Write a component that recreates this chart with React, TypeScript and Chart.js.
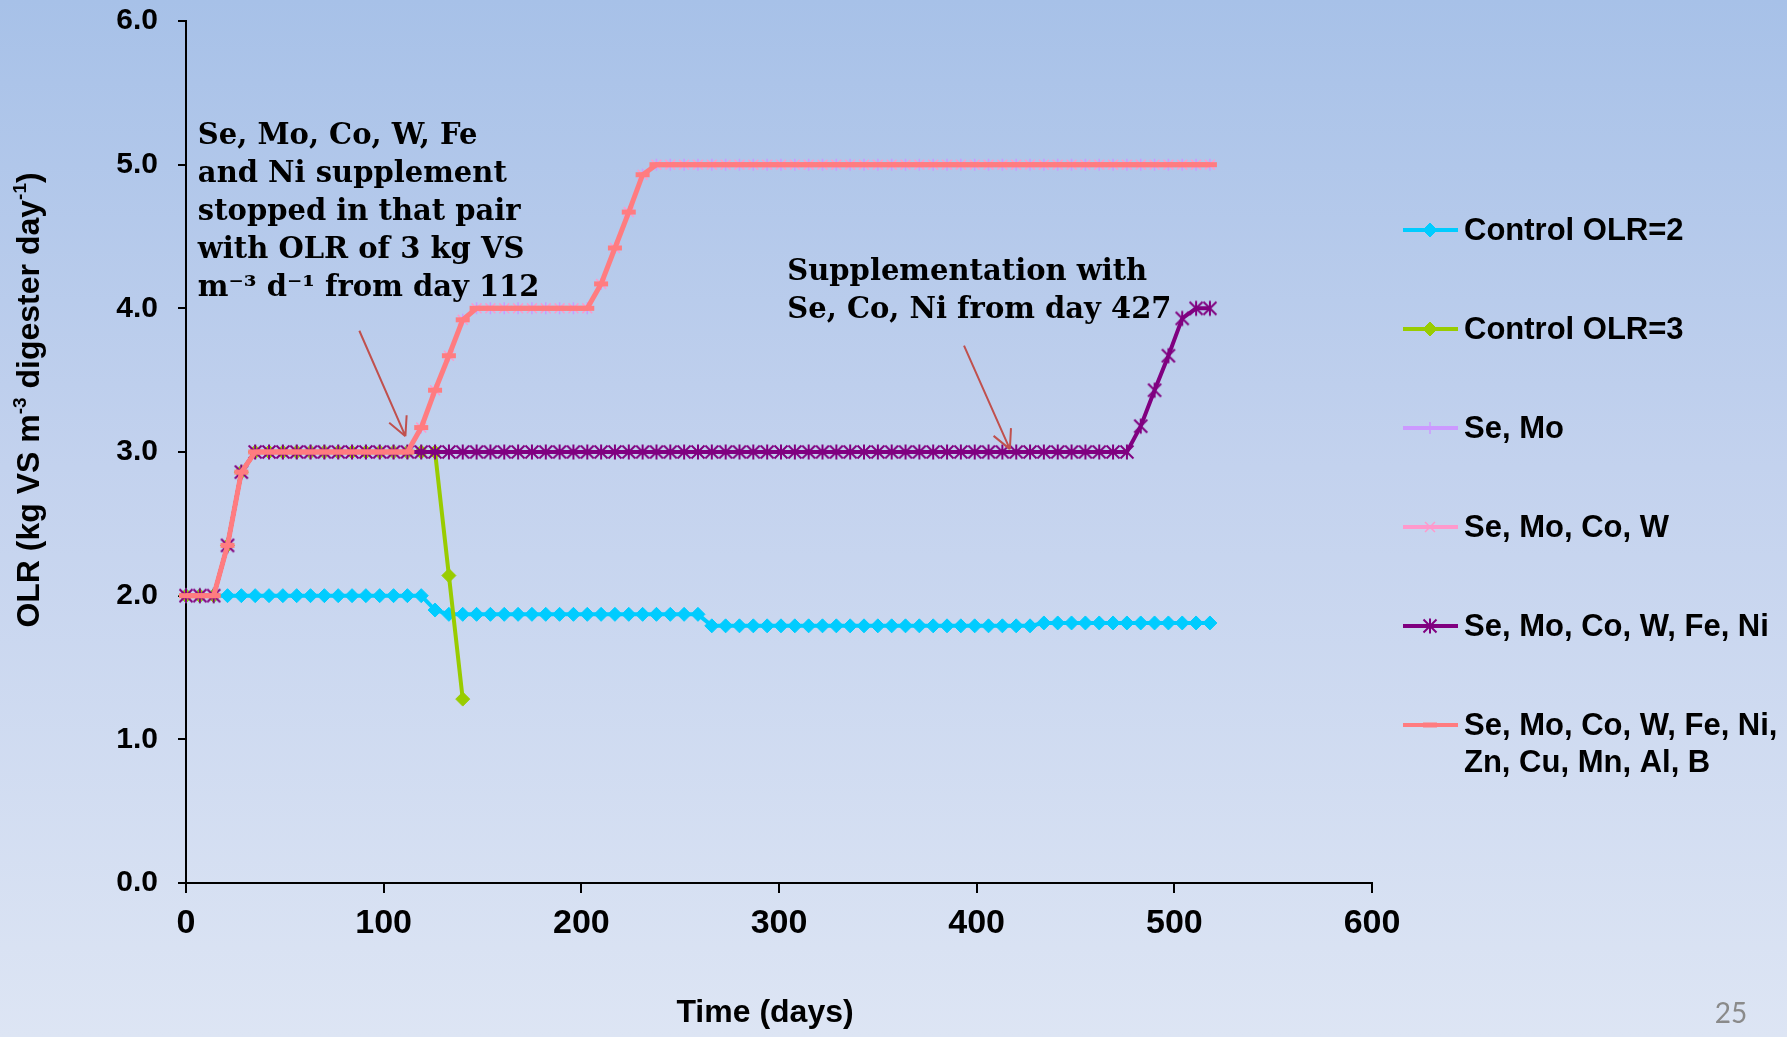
import React, { useEffect, useRef } from 'react';
import { Chart, registerables } from 'chart.js';
import { drawPoint } from 'chart.js/helpers';

Chart.register(...registerables);

// Sampling days (weekly readings)
const days = [
  0, 7, 14, 21, 28, 35, 42, 49, 56, 63, 70, 77, 84, 91, 98, 105, 112, 119, 126, 133,
  140, 147, 154, 161, 168, 175, 182, 189, 196, 203, 210, 217, 224, 231, 238, 245, 252, 259, 266, 273,
  280, 287, 294, 301, 308, 315, 322, 329, 336, 343, 350, 357, 364, 371, 378, 385, 392, 399, 406, 413,
  420, 427, 434, 441, 448, 455, 462, 469, 476, 483, 490, 497, 504, 511, 518,
];

// OLR, kg VS m-3 day-1
const controlOLR2 = [
  2.0, 2.0, 2.0, 2.0, 2.0, 2.0, 2.0, 2.0, 2.0, 2.0, 2.0, 2.0, 2.0, 2.0, 2.0, 2.0, 2.0, 2.0, 1.9, 1.87,
  1.87, 1.87, 1.87, 1.87, 1.87, 1.87, 1.87, 1.87, 1.87, 1.87, 1.87, 1.87, 1.87, 1.87, 1.87, 1.87, 1.87, 1.87, 1.79, 1.79,
  1.79, 1.79, 1.79, 1.79, 1.79, 1.79, 1.79, 1.79, 1.79, 1.79, 1.79, 1.79, 1.79, 1.79, 1.79, 1.79, 1.79, 1.79, 1.79, 1.79,
  1.79, 1.79, 1.81, 1.81, 1.81, 1.81, 1.81, 1.81, 1.81, 1.81, 1.81, 1.81, 1.81, 1.81, 1.81,
];

const controlOLR3 = [
  2.0, 2.0, 2.0, 2.35, 2.86, 3.0, 3.0, 3.0, 3.0, 3.0, 3.0, 3.0, 3.0, 3.0, 3.0, 3.0, 3.0, 3.0, 3.0, 2.14,
  1.28,
];

// Se,Mo / Se,Mo,Co,W / full trace element mix share the same loading schedule
const supplementedPairOLR = [
  2.0, 2.0, 2.0, 2.35, 2.86, 3.0, 3.0, 3.0, 3.0, 3.0, 3.0, 3.0, 3.0, 3.0, 3.0, 3.0, 3.0, 3.17, 3.43, 3.67,
  3.92, 4.0, 4.0, 4.0, 4.0, 4.0, 4.0, 4.0, 4.0, 4.0, 4.17, 4.42, 4.67, 4.93, 5.0, 5.0, 5.0, 5.0, 5.0, 5.0,
  5.0, 5.0, 5.0, 5.0, 5.0, 5.0, 5.0, 5.0, 5.0, 5.0, 5.0, 5.0, 5.0, 5.0, 5.0, 5.0, 5.0, 5.0, 5.0, 5.0,
  5.0, 5.0, 5.0, 5.0, 5.0, 5.0, 5.0, 5.0, 5.0, 5.0, 5.0, 5.0, 5.0, 5.0, 5.0,
];

const seMoCoWFeNiOLR = [
  2.0, 2.0, 2.0, 2.35, 2.86, 3.0, 3.0, 3.0, 3.0, 3.0, 3.0, 3.0, 3.0, 3.0, 3.0, 3.0, 3.0, 3.0, 3.0, 3.0,
  3.0, 3.0, 3.0, 3.0, 3.0, 3.0, 3.0, 3.0, 3.0, 3.0, 3.0, 3.0, 3.0, 3.0, 3.0, 3.0, 3.0, 3.0, 3.0, 3.0,
  3.0, 3.0, 3.0, 3.0, 3.0, 3.0, 3.0, 3.0, 3.0, 3.0, 3.0, 3.0, 3.0, 3.0, 3.0, 3.0, 3.0, 3.0, 3.0, 3.0,
  3.0, 3.0, 3.0, 3.0, 3.0, 3.0, 3.0, 3.0, 3.0, 3.18, 3.43, 3.67, 3.93, 4.0, 4.0,
];

const seriesLabels = [
  ['Control OLR=2'],
  ['Control OLR=3'],
  ['Se, Mo'],
  ['Se, Mo, Co, W'],
  ['Se, Mo, Co, W, Fe, Ni'],
  ['Se, Mo, Co, W, Fe, Ni,', 'Zn, Cu, Mn, Al, B'],
];

const seriesColors = ['#00CCFF', '#99CC00', '#CC99FF', '#FF99CC', '#800080', '#FF7C80'];

const xRange = [0, 600];
const yRange = [0, 6];

const yTitleParts = [
  { text: 'OLR (kg VS m', sup: false },
  { text: '-3', sup: true },
  { text: ' digester day', sup: false },
  { text: '-1', sup: true },
  { text: ')', sup: false },
];
const xTitle = 'Time (days)';
const slideNumber = '25';

// Callouts: text anchored at [day, OLR] of the first baseline
const notes = [
  {
    at: [6, 5.147],
    lines: ['Se, Mo, Co, W, Fe', 'and Ni supplement', 'stopped in that pair', 'with OLR of 3 kg VS', 'm\u207B\u00B3 d\u207B\u00B9 from day 112'],
  },
  {
    at: [304.2, 4.198],
    lines: ['Supplementation with', 'Se, Co, Ni from day 427'],
  },
];

const arrows = [
  { from: [87.7, 3.844], to: [111, 3.11] },
  { from: [393.6, 3.74], to: [416.8, 3.02] },
];

const SANS = "'Liberation Sans', Arial, sans-serif";
const SERIF = "'DejaVu Serif', Georgia, serif";

function asteriskMarker(color: string) {
  const c = document.createElement('canvas');
  c.width = 18;
  c.height = 18;
  const g = c.getContext('2d')!;
  g.strokeStyle = color;
  g.lineWidth = 2;
  g.beginPath();
  g.moveTo(2.5, 2.5);
  g.lineTo(15.5, 15.5);
  g.moveTo(15.5, 2.5);
  g.lineTo(2.5, 15.5);
  g.moveTo(9, 1.5);
  g.lineTo(9, 16.5);
  g.stroke();
  return c;
}

function toPoints(xs: number[], ys: number[]) {
  return ys.map((v, i) => ({ x: xs[i], y: v }));
}

const overlayPlugin = {
  id: 'olrOverlay',
  afterDraw(chart: any) {
    const { ctx } = chart;
    const xs = chart.scales.x;
    const ys = chart.scales.y;
    ctx.save();

    // callout arrows
    ctx.strokeStyle = '#C0504D';
    ctx.lineWidth = 2;
    for (const a of arrows) {
      const x1 = xs.getPixelForValue(a.from[0]);
      const y1 = ys.getPixelForValue(a.from[1]);
      const x2 = xs.getPixelForValue(a.to[0]);
      const y2 = ys.getPixelForValue(a.to[1]);
      const ang = Math.atan2(y2 - y1, x2 - x1);
      ctx.beginPath();
      ctx.moveTo(x1, y1);
      ctx.lineTo(x2, y2);
      for (const s of [-1, 1]) {
        const w = ang + Math.PI + s * 0.47;
        ctx.moveTo(x2, y2);
        ctx.lineTo(x2 + 21 * Math.cos(w), y2 + 21 * Math.sin(w));
      }
      ctx.stroke();
    }

    // callout texts
    ctx.fillStyle = '#000';
    ctx.font = `bold 29px ${SERIF}`;
    ctx.textAlign = 'left';
    ctx.textBaseline = 'alphabetic';
    for (const n of notes) {
      const nx = xs.getPixelForValue(n.at[0]);
      const ny = ys.getPixelForValue(n.at[1]);
      n.lines.forEach((line, i) => ctx.fillText(line, nx, ny + i * 38));
    }

    // legend
    const ds = chart.data.datasets;
    ds.forEach((d: any, i: number) => {
      const cy = 230 + i * 99;
      ctx.strokeStyle = d.borderColor;
      ctx.lineWidth = 4;
      ctx.beginPath();
      ctx.moveTo(1403, cy);
      ctx.lineTo(1458, cy);
      ctx.stroke();
      ctx.fillStyle = d.borderColor;
      ctx.strokeStyle = d.borderColor;
      ctx.lineWidth = d.pointBorderWidth;
      drawPoint(ctx, { pointStyle: d.pointStyle, radius: d.pointRadius, rotation: 0, borderWidth: d.pointBorderWidth }, 1430, cy);
      ctx.fillStyle = '#000';
      ctx.font = `bold 31px ${SANS}`;
      ctx.textAlign = 'left';
      ctx.textBaseline = 'middle';
      seriesLabels[i].forEach((t, k) => ctx.fillText(t, 1464, cy + 1 + k * 37.5));
    });

    // axis titles
    ctx.fillStyle = '#000';
    ctx.save();
    ctx.translate(30, 400);
    ctx.rotate(-Math.PI / 2);
    const mainFont = `bold 32px ${SANS}`;
    const supFont = `bold 19px ${SANS}`;
    let total = 0;
    for (const p of yTitleParts) {
      ctx.font = p.sup ? supFont : mainFont;
      total += ctx.measureText(p.text).width;
    }
    let px = -total / 2;
    ctx.textAlign = 'left';
    ctx.textBaseline = 'middle';
    for (const p of yTitleParts) {
      ctx.font = p.sup ? supFont : mainFont;
      ctx.fillText(p.text, px, p.sup ? -9 : 0);
      px += ctx.measureText(p.text).width;
    }
    ctx.restore();

    ctx.font = `bold 32px ${SANS}`;
    ctx.textAlign = 'center';
    ctx.textBaseline = 'middle';
    ctx.fillText(xTitle, 765, 1013);

    ctx.font = `28px Lato, ${SANS}`;
    ctx.fillStyle = '#8A8A8A';
    ctx.fillText(slideNumber, 1731, 1014);
    ctx.restore();
  },
};

export default function App() {
  const canvasRef = useRef<HTMLCanvasElement>(null);

  useEffect(() => {
    const canvas = canvasRef.current;
    if (!canvas) return;
    const star = asteriskMarker(seriesColors[4]);

    const common = { tension: 0, clip: false as const, fill: false };
    const chart = new Chart(canvas, {
      type: 'line',
      data: {
        datasets: [
          {
            ...common,
            label: seriesLabels[0].join(' '),
            data: toPoints(days, controlOLR2),
            borderColor: seriesColors[0],
            backgroundColor: seriesColors[0],
            pointBackgroundColor: seriesColors[0],
            borderWidth: 4,
            pointStyle: 'rectRot',
            pointRadius: 7,
            pointBorderWidth: 1,
            order: 5,
          },
          {
            ...common,
            label: seriesLabels[1].join(' '),
            data: toPoints(days, controlOLR3),
            borderColor: seriesColors[1],
            backgroundColor: seriesColors[1],
            pointBackgroundColor: seriesColors[1],
            borderWidth: 4,
            pointStyle: 'rectRot',
            pointRadius: 7,
            pointBorderWidth: 1,
            order: 4,
          },
          {
            ...common,
            label: seriesLabels[2].join(' '),
            data: toPoints(days, supplementedPairOLR),
            borderColor: seriesColors[2],
            backgroundColor: seriesColors[2],
            borderWidth: 3,
            pointStyle: 'cross',
            pointRadius: 6,
            pointBorderWidth: 1.5,
            order: 3,
          },
          {
            ...common,
            label: seriesLabels[3].join(' '),
            data: toPoints(days, supplementedPairOLR),
            borderColor: seriesColors[3],
            backgroundColor: seriesColors[3],
            borderWidth: 3,
            pointStyle: 'crossRot',
            pointRadius: 7,
            pointBorderWidth: 1.5,
            order: 2,
          },
          {
            ...common,
            label: seriesLabels[4].join(' '),
            data: toPoints(days, seMoCoWFeNiOLR),
            borderColor: seriesColors[4],
            backgroundColor: seriesColors[4],
            borderWidth: 4,
            pointStyle: star as any,
            pointRadius: 7,
            pointBorderWidth: 2,
            order: 1,
          },
          {
            ...common,
            label: seriesLabels[5].join(' '),
            data: toPoints(days, supplementedPairOLR),
            borderColor: seriesColors[5],
            backgroundColor: seriesColors[5],
            borderWidth: 5,
            pointStyle: 'line',
            pointRadius: 7,
            pointBorderWidth: 5,
            order: 0,
          },
        ],
      },
      options: {
        responsive: false,
        maintainAspectRatio: false,
        animation: false,
        events: [],
        layout: { padding: { top: 21, right: 415, left: 0, bottom: 0 } },
        plugins: { legend: { display: false }, tooltip: { enabled: false } },
        scales: {
          x: {
            type: 'linear',
            min: xRange[0],
            max: xRange[1],
            ticks: {
              stepSize: 100,
              color: '#000',
              padding: 10,
              maxRotation: 0,
              font: { family: SANS, size: 34, weight: 'bold' },
            },
            grid: { drawOnChartArea: false, drawTicks: true, tickLength: 10, color: '#000', lineWidth: 2 },
            border: { display: true, color: '#000', width: 2 },
            afterFit: (s: any) => {
              s.height = 154;
              s.paddingLeft = 0;
              s.paddingRight = 0;
            },
          },
          y: {
            min: yRange[0],
            max: yRange[1],
            ticks: {
              stepSize: 1,
              color: '#000',
              padding: 20,
              font: { family: SANS, size: 30, weight: 'bold' },
              callback: (v: any) => Number(v).toFixed(1),
            },
            grid: { drawOnChartArea: false, drawTicks: true, tickLength: 8, color: '#000', lineWidth: 2 },
            border: { display: true, color: '#000', width: 2 },
            afterFit: (s: any) => {
              s.width = 186;
              s.paddingTop = 0;
              s.paddingBottom = 0;
            },
          },
        },
      },
      plugins: [overlayPlugin],
    } as any);

    return () => chart.destroy();
  }, []);

  return (
    <div
      style={{
        position: 'fixed',
        left: 0,
        top: 0,
        width: 1787,
        height: 1037,
        background: 'linear-gradient(to bottom, #a7c1e8 0%, #c3d2ee 45%, #dde5f4 100%)',
      }}
    >
      <canvas ref={canvasRef} width={1787} height={1037} style={{ display: 'block' }} />
    </div>
  );
}
